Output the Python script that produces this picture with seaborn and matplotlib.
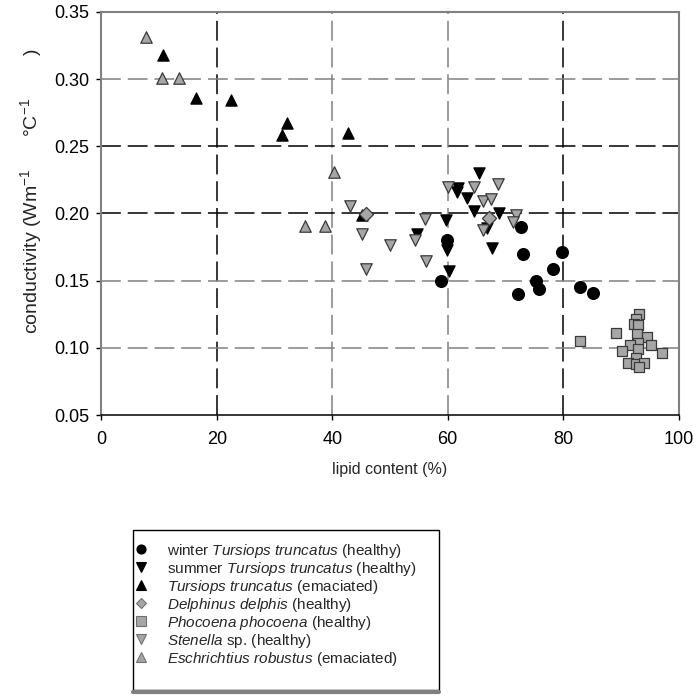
"""
plot.py
Blubber conductivity vs lipid content, scatter by species / condition.
"""
import matplotlib
matplotlib.use("Agg")
import pandas as pd
import matplotlib.pyplot as plt
from matplotlib.lines import Line2D
from matplotlib.patches import Rectangle
import seaborn as sns

# ── data ────────────────────────────────────────────────────
winter_x = [72.7, 59.8, 73.0, 79.8, 78.3, 58.8, 75.3, 75.9, 72.1, 83.0, 85.2]
winter_y = [0.190, 0.180, 0.170, 0.1715, 0.159, 0.150, 0.150, 0.144, 0.140, 0.145, 0.141]

summer_x = [65.4, 61.8, 61.6, 63.4, 64.6, 68.9, 59.7, 54.7, 66.8, 59.8, 67.7, 60.3]
summer_y = [0.230, 0.2187, 0.2162, 0.2112, 0.2018, 0.2005, 0.195, 0.1847, 0.189, 0.1728, 0.174, 0.1574]

emaciated_x = [10.7, 16.4, 22.4, 32.1, 31.2, 42.7, 45.2]
emaciated_y = [0.318, 0.2856, 0.2844, 0.267, 0.258, 0.260, 0.199]

delphinus_x = [45.8, 67.2]
delphinus_y = [0.1995, 0.1963]

phocoena_x = [82.9, 89.2, 93.2, 92.6, 92.2, 93.0, 92.8, 94.5, 93.0, 91.6,
              95.2, 93.0, 90.2, 97.1, 92.6, 91.3, 92.6, 94.0, 93.2]
phocoena_y = [0.1053, 0.1112, 0.1251, 0.1212, 0.118, 0.117, 0.1103, 0.1083, 0.1038, 0.1021,
              0.1018, 0.0989, 0.0976, 0.0959, 0.0922, 0.0884, 0.0879, 0.0889, 0.0860]

stenella_x = [43.1, 45.1, 45.8, 50.0, 54.3, 56.1, 56.2, 60.0, 64.6, 68.8, 66.2, 67.5, 66.2, 71.8, 71.4]
stenella_y = [0.2055, 0.1847, 0.159, 0.1765, 0.180, 0.1956, 0.1646, 0.2194, 0.2194, 0.2219,
              0.2095, 0.2105, 0.1876, 0.1988, 0.1938]

eschrichtius_x = [7.7, 10.4, 13.5, 40.3, 35.2, 38.7]
eschrichtius_y = [0.331, 0.3005, 0.3005, 0.231, 0.191, 0.191]

x_ticks = [0, 20, 40, 60, 80, 100]
y_ticks = [0.05, 0.10, 0.15, 0.20, 0.25, 0.30, 0.35]

# ── style ───────────────────────────────────────────────────
sns.set_theme(style="white")
plt.rcParams.update({
    "font.family": ["Liberation Sans", "DejaVu Sans"],
    "mathtext.fontset": "custom",
    "mathtext.rm": "Liberation Sans",
    "mathtext.it": "Liberation Sans:italic",
    "mathtext.default": "regular",
    "font.size": 11.5,
    "axes.edgecolor": "#808080",
    "axes.linewidth": 1.5,
})

GREY = "#a6a6a6"
GREY_EDGE = "#3a3a3a"
W, H = 699, 698  # figure size in px, used for placing the legend box

# label, x, y, marker, fill, edge, size
groups = [
    (r"$\mathit{Tursiops\ truncatus}$ (emaciated)", emaciated_x, emaciated_y, "^", "black", "black", 65),
    (r"summer $\mathit{Tursiops\ truncatus}$ (healthy)", summer_x, summer_y, "v", "black", "black", 65),
    (r"winter $\mathit{Tursiops\ truncatus}$ (healthy)", winter_x, winter_y, "o", "black", "black", 72),
    (r"$\mathit{Stenella}$ sp. (healthy)", stenella_x, stenella_y, "v", GREY, GREY_EDGE, 68),
    (r"$\mathit{Eschrichtius\ robustus}$ (emaciated)", eschrichtius_x, eschrichtius_y, "^", GREY, GREY_EDGE, 68),
    (r"$\mathit{Delphinus\ delphis}$ (healthy)", delphinus_x, delphinus_y, "D", GREY, GREY_EDGE, 52),
    (r"$\mathit{Phocoena\ phocoena}$ (healthy)", phocoena_x, phocoena_y, "s", GREY, GREY_EDGE, 52),
]
legend_order = [2, 1, 0, 5, 6, 3, 4]

fig = plt.figure(figsize=(W / 100, H / 100), dpi=100)
ax = fig.add_axes([0.1452, 0.4054, 0.8255, 0.5777])

# dashed grid (some lines render black, some grey in the original)
for v, c in zip([20, 40, 60, 80], ["black", "#808080", "#808080", "black"]):
    ax.axvline(v, color=c, lw=1.1, dashes=(13, 4.5), zorder=1)
for h, c in zip([0.10, 0.15, 0.20, 0.25, 0.30], ["#808080", "#808080", "black", "black", "#808080"]):
    ax.axhline(h, color=c, lw=1.1, dashes=(13, 4.5), zorder=1)

for label, xs, ys, mk, fc, ec, s in groups:
    df = pd.DataFrame({"lipid": xs, "cond": ys})
    sns.scatterplot(data=df, x="lipid", y="cond", marker=mk, color=fc,
                    edgecolor=ec, linewidth=0.9, s=s, ax=ax, zorder=3, legend=False)

ax.set_xlim(0, 100)
ax.set_ylim(0.05, 0.35)
ax.set_xticks(x_ticks)
ax.set_yticks(y_ticks)
ax.set_yticklabels([f"{t:.2f}" for t in y_ticks])
ax.spines["bottom"].set_color("black")
ax.spines["bottom"].set_linewidth(1.1)
ax.tick_params(direction="out", length=3.5, width=1, colors="black",
               labelsize=13, left=True, bottom=True)
ax.tick_params(axis="y", pad=5)
ax.tick_params(axis="x", pad=8)
ax.set_xlabel("lipid content (%)", fontsize=11.5, labelpad=10)
ax.set_ylabel("conductivity (Wm$^{-1}$      °C$^{-1}$        )", fontsize=14)
ax.yaxis.set_label_coords(-0.1, 0.555)

# legend below the plot
handles = []
for i in legend_order:
    label, xs, ys, mk, fc, ec, s = groups[i]
    ms = 6.5 if mk != "D" else 5.5
    handles.append(Line2D([], [], linestyle="none", marker=mk, markersize=ms,
                          markerfacecolor=fc, markeredgecolor=ec if fc == "black" else "#707070",
                          markeredgewidth=0.8, label=label))
leg = fig.legend(handles=handles, loc="upper left",
                 bbox_to_anchor=(133 / W, 1 - 538 / H),
                 borderaxespad=0, fontsize=11, frameon=False, borderpad=0.25,
                 handlelength=0.5, handletextpad=1.5, labelspacing=0.0)

# legend box: black frame with a grey band along the bottom
fig.add_artist(Rectangle((133 / W, 1 - 690 / H), (439 - 133) / W, (690 - 530) / H,
                         transform=fig.transFigure, fill=False, edgecolor="black", lw=1.0))
fig.add_artist(Line2D([133 / W, 439 / W], [1 - 692 / H, 1 - 692 / H], transform=fig.transFigure,
                      color="#808080", lw=3))

fig.savefig("out.png", dpi=100, facecolor="white")
